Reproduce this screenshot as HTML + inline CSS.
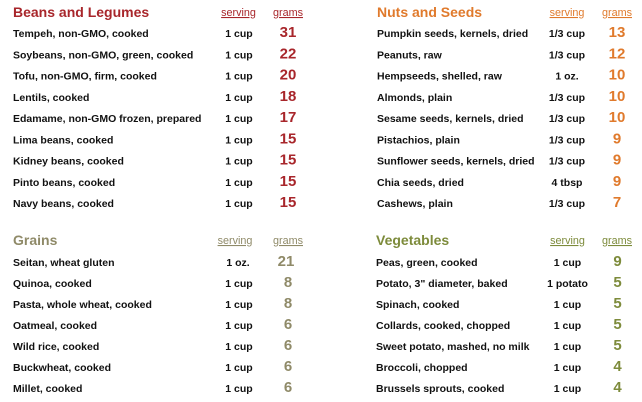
<!DOCTYPE html>
<html><head><meta charset="utf-8"><style>
html,body{margin:0;padding:0;background:#fff;}
svg{display:block;}
text{font-family:"Liberation Sans",Arial,sans-serif;}
.t{font-size:14px;font-weight:bold;}
.h{font-size:10.8px;text-decoration:underline;}
.r{font-size:10.5px;font-weight:bold;fill:#111;}
.s{font-size:10.5px;font-weight:bold;fill:#111;text-anchor:middle;}
.n{font-size:15px;font-weight:bold;text-anchor:middle;}
.red{fill:#a8262b;} .org{fill:#e07a2c;} .grn{fill:#8f8a68;} .veg{fill:#7d8b3b;}
</style></head><body>
<svg width="642" height="402" viewBox="0 0 642 402" xmlns="http://www.w3.org/2000/svg">
<!-- Beans -->
<text class="t red" x="13" y="17">Beans and Legumes</text>
<text class="h red" x="238.5" y="16" text-anchor="middle">serving</text>
<text class="h red" x="288" y="16" text-anchor="middle">grams</text>
<g>
<text class="r" x="13" y="37">Tempeh, non-GMO, cooked</text><text class="s" x="239" y="37">1 cup</text><text class="n red" x="288" y="37">31</text>
<text class="r" x="13" y="58.3">Soybeans, non-GMO, green, cooked</text><text class="s" x="239" y="58.3">1 cup</text><text class="n red" x="288" y="58.3">22</text>
<text class="r" x="13" y="79.5">Tofu, non-GMO, firm, cooked</text><text class="s" x="239" y="79.5">1 cup</text><text class="n red" x="288" y="79.5">20</text>
<text class="r" x="13" y="100.8">Lentils, cooked</text><text class="s" x="239" y="100.8">1 cup</text><text class="n red" x="288" y="100.8">18</text>
<text class="r" x="13" y="122">Edamame, non-GMO frozen, prepared</text><text class="s" x="239" y="122">1 cup</text><text class="n red" x="288" y="122">17</text>
<text class="r" x="13" y="143.3">Lima beans, cooked</text><text class="s" x="239" y="143.3">1 cup</text><text class="n red" x="288" y="143.3">15</text>
<text class="r" x="13" y="164.5">Kidney beans, cooked</text><text class="s" x="239" y="164.5">1 cup</text><text class="n red" x="288" y="164.5">15</text>
<text class="r" x="13" y="185.8">Pinto beans, cooked</text><text class="s" x="239" y="185.8">1 cup</text><text class="n red" x="288" y="185.8">15</text>
<text class="r" x="13" y="207">Navy beans, cooked</text><text class="s" x="239" y="207">1 cup</text><text class="n red" x="288" y="207">15</text>
</g>
<!-- Nuts -->
<text class="t org" x="377" y="17">Nuts and Seeds</text>
<text class="h org" x="567" y="16" text-anchor="middle">serving</text>
<text class="h org" x="617" y="16" text-anchor="middle">grams</text>
<g>
<text class="r" x="377" y="37">Pumpkin seeds, kernels, dried</text><text class="s" x="567" y="37">1/3 cup</text><text class="n org" x="617" y="37">13</text>
<text class="r" x="377" y="58.3">Peanuts, raw</text><text class="s" x="567" y="58.3">1/3 cup</text><text class="n org" x="617" y="58.3">12</text>
<text class="r" x="377" y="79.5">Hempseeds, shelled, raw</text><text class="s" x="567" y="79.5">1 oz.</text><text class="n org" x="617" y="79.5">10</text>
<text class="r" x="377" y="100.8">Almonds, plain</text><text class="s" x="567" y="100.8">1/3 cup</text><text class="n org" x="617" y="100.8">10</text>
<text class="r" x="377" y="122">Sesame seeds, kernels, dried</text><text class="s" x="567" y="122">1/3 cup</text><text class="n org" x="617" y="122">10</text>
<text class="r" x="377" y="143.3">Pistachios, plain</text><text class="s" x="567" y="143.3">1/3 cup</text><text class="n org" x="617" y="143.3">9</text>
<text class="r" x="377" y="164.5">Sunflower seeds, kernels, dried</text><text class="s" x="567" y="164.5">1/3 cup</text><text class="n org" x="617" y="164.5">9</text>
<text class="r" x="377" y="185.8">Chia seeds, dried</text><text class="s" x="567" y="185.8">4 tbsp</text><text class="n org" x="617" y="185.8">9</text>
<text class="r" x="377" y="207">Cashews, plain</text><text class="s" x="567" y="207">1/3 cup</text><text class="n org" x="617" y="207">7</text>
</g>
<!-- Grains -->
<text class="t grn" x="13" y="245">Grains</text>
<text class="h grn" x="235" y="244" text-anchor="middle">serving</text>
<text class="h grn" x="288" y="244" text-anchor="middle">grams</text>
<g>
<text class="r" x="13" y="266">Seitan, wheat gluten</text><text class="s" x="238" y="266">1 oz.</text><text class="n grn" x="286" y="266">21</text>
<text class="r" x="13" y="287">Quinoa, cooked</text><text class="s" x="239" y="287">1 cup</text><text class="n grn" x="288" y="287" font-weight="normal">8</text>
<text class="r" x="13" y="308">Pasta, whole wheat, cooked</text><text class="s" x="239" y="308">1 cup</text><text class="n grn" x="288" y="308" font-weight="normal">8</text>
<text class="r" x="13" y="329">Oatmeal, cooked</text><text class="s" x="239" y="329">1 cup</text><text class="n grn" x="288" y="329" font-weight="normal">6</text>
<text class="r" x="13" y="350">Wild rice, cooked</text><text class="s" x="239" y="350">1 cup</text><text class="n grn" x="288" y="350" font-weight="normal">6</text>
<text class="r" x="13" y="371">Buckwheat, cooked</text><text class="s" x="239" y="371">1 cup</text><text class="n grn" x="288" y="371" font-weight="normal">6</text>
<text class="r" x="13" y="392">Millet, cooked</text><text class="s" x="239" y="392">1 cup</text><text class="n grn" x="288" y="392" font-weight="normal">6</text>
</g>
<!-- Vegetables -->
<text class="t veg" x="376" y="245">Vegetables</text>
<text class="h veg" x="567.5" y="244" text-anchor="middle">serving</text>
<text class="h veg" x="617" y="244" text-anchor="middle">grams</text>
<g>
<text class="r" x="376" y="266">Peas, green, cooked</text><text class="s" x="567.5" y="266">1 cup</text><text class="n veg" x="617.5" y="266">9</text>
<text class="r" x="376" y="287">Potato, 3" diameter, baked</text><text class="s" x="567.5" y="287">1 potato</text><text class="n veg" x="617.5" y="287">5</text>
<text class="r" x="376" y="308">Spinach, cooked</text><text class="s" x="567.5" y="308">1 cup</text><text class="n veg" x="617.5" y="308">5</text>
<text class="r" x="376" y="329">Collards, cooked, chopped</text><text class="s" x="567.5" y="329">1 cup</text><text class="n veg" x="617.5" y="329">5</text>
<text class="r" x="376" y="350">Sweet potato, mashed, no milk</text><text class="s" x="567.5" y="350">1 cup</text><text class="n veg" x="617.5" y="350">5</text>
<text class="r" x="376" y="371">Broccoli, chopped</text><text class="s" x="567.5" y="371">1 cup</text><text class="n veg" x="617.5" y="371">4</text>
<text class="r" x="376" y="392">Brussels sprouts, cooked</text><text class="s" x="567.5" y="392">1 cup</text><text class="n veg" x="617.5" y="392">4</text>
</g>
</svg>
</body></html>
